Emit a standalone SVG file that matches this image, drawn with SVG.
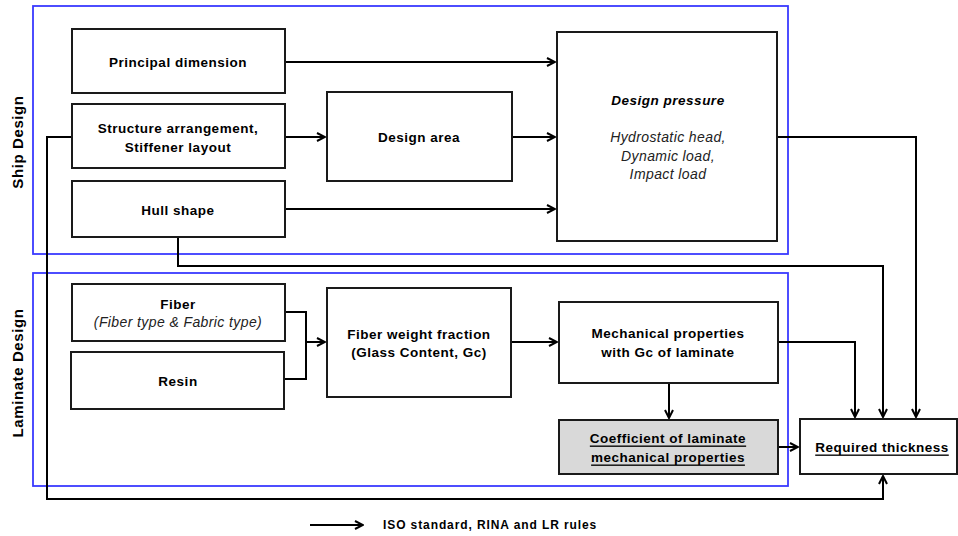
<svg xmlns="http://www.w3.org/2000/svg" width="958" height="536" viewBox="0 0 958 536">
<style>
.bx{fill:#fff;stroke:#1a1a1a;stroke-width:2}
.grp{fill:none;stroke:#3a3aff;stroke-width:1.8}
.ln{fill:none;stroke:#000;stroke-width:2}
text{font-family:"Liberation Sans",Arial,sans-serif;font-size:13.5px;letter-spacing:0.5px;font-weight:bold;text-anchor:middle;dominant-baseline:central;fill:#000}
.it{font-style:italic;font-weight:normal;fill:#222;font-size:14px;letter-spacing:0.4px}
.u{text-decoration:underline}
.side{font-size:15px;letter-spacing:0.6px}
</style>
<defs>
<marker id="ar" viewBox="0 0 10 10" refX="9" refY="5" markerWidth="10" markerHeight="10" markerUnits="userSpaceOnUse" orient="auto">
<path d="M1,1 L9,5 L1,9" fill="none" stroke="#000" stroke-width="2"/>
</marker>
</defs>
<rect x="0" y="0" width="958" height="536" fill="#fff"/>
<g id="ship-design-group">
<rect class="grp" x="33" y="6" width="755" height="248"/>
<text class="side" transform="translate(17,142) rotate(-90)">Ship Design</text>
</g>
<g id="laminate-design-group">
<rect class="grp" x="33" y="273" width="755" height="213"/>
<text class="side" transform="translate(17,373) rotate(-90)">Laminate Design</text>
</g>
<g id="connectors">
<path class="ln" d="M285,62 H555" marker-end="url(#ar)"/>
<path class="ln" d="M285,137 H325" marker-end="url(#ar)"/>
<path class="ln" d="M512,137 H555" marker-end="url(#ar)"/>
<path class="ln" d="M285,209 H555" marker-end="url(#ar)"/>
<path class="ln" d="M777,137 H916 V417" marker-end="url(#ar)"/>
<path class="ln" d="M178,237 V266 H883 V417" marker-end="url(#ar)"/>
<path class="ln" d="M72,137 H47 V499 H883 V476" marker-end="url(#ar)"/>
<path class="ln" d="M285,312 H306 V379 H284"/>
<path class="ln" d="M306,342 H325" marker-end="url(#ar)"/>
<path class="ln" d="M511,342 H557" marker-end="url(#ar)"/>
<path class="ln" d="M669,383 V418" marker-end="url(#ar)"/>
<path class="ln" d="M778,342 H855 V417" marker-end="url(#ar)"/>
<path class="ln" d="M778,447 H798" marker-end="url(#ar)"/>
</g>
<g id="principal-dimension">
<rect class="bx" x="72" y="29" width="213" height="64"/>
<text x="178" y="62">Principal dimension</text>
</g>
<g id="structure-arrangement">
<rect class="bx" x="72" y="104" width="213" height="64"/>
<text x="178" y="128">Structure arrangement,</text>
<text x="178" y="147">Stiffener layout</text>
</g>
<g id="hull-shape">
<rect class="bx" x="72" y="181" width="213" height="56"/>
<text x="178" y="210">Hull shape</text>
</g>
<g id="design-area">
<rect class="bx" x="327" y="92" width="185" height="89"/>
<text x="419" y="137">Design area</text>
</g>
<g id="design-pressure">
<rect class="bx" x="557" y="32" width="220" height="209"/>
<text x="668" y="100" style="font-style:italic">Design pressure</text>
<text class="it" x="668" y="137">Hydrostatic head,</text>
<text class="it" x="668" y="156">Dynamic load,</text>
<text class="it" x="668" y="174">Impact load</text>
</g>
<g id="fiber">
<rect class="bx" x="72" y="284" width="213" height="57"/>
<text x="178" y="304">Fiber</text>
<text class="it" x="178" y="322">(Fiber type &amp; Fabric type)</text>
</g>
<g id="resin">
<rect class="bx" x="71" y="352" width="213" height="57"/>
<text x="178" y="381">Resin</text>
</g>
<g id="fiber-weight-fraction">
<rect class="bx" x="327" y="288" width="184" height="109"/>
<text x="419" y="334">Fiber weight fraction</text>
<text x="419" y="352">(Glass Content, Gc)</text>
</g>
<g id="mechanical-properties">
<rect class="bx" x="559" y="302" width="219" height="81"/>
<text x="668" y="333">Mechanical properties</text>
<text x="668" y="352">with Gc of laminate</text>
</g>
<g id="coefficient">
<rect class="bx" x="559" y="420" width="219" height="54" style="fill:#d9d9d9"/>
<text class="u" x="668" y="438">Coefficient of laminate</text>
<text class="u" x="668" y="457">mechanical properties</text>
</g>
<g id="required-thickness">
<rect class="bx" x="800" y="419" width="157" height="55"/>
<text class="u" x="882" y="447">Required thickness</text>
</g>
<g id="legend">
<path class="ln" d="M310,525 H363" marker-end="url(#ar)"/>
<text x="383" y="525" style="text-anchor:start;font-size:12px;letter-spacing:0.9px">ISO standard, RINA and LR rules</text>
</g>
</svg>
